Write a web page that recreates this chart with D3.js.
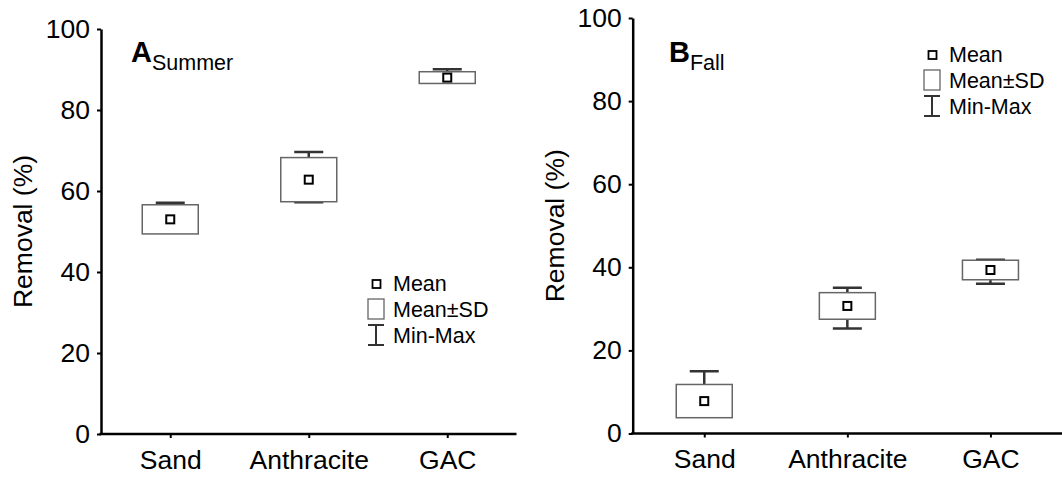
<!DOCTYPE html>
<html>
<head>
<meta charset="utf-8">
<script src="https://cdn.jsdelivr.net/npm/d3@7"></script>
<style>
  body { margin: 0; background: #fff; }
  svg { display: block; font-family: 'Liberation Sans', Arial, sans-serif; }
  .tick text { font-size: 26.5px; fill: #000; }
  .axis-label { font-size: 26.5px; fill: #000; }
  .legend text { font-size: 21.5px; fill: #000; }
</style>
</head>
<body>
<svg width="1062" height="479"></svg>
<script>
const categories = ['Sand', 'Anthracite', 'GAC'];
const yTicks = [0, 20, 40, 60, 80, 100];

// summer (panel A)
const summerMean = [53.0, 62.8, 88.0];
const summerSD = [3.6, 5.45, 1.45];
const summerMin = [50.0, 57.2, 87.0];
const summerMax = [57.1, 69.6, 90.05];

// fall (panel B)
const fallMean = [7.8, 30.7, 39.35];
const fallSD = [4.0, 3.2, 2.35];
const fallMin = [4.5, 25.3, 36.05];
const fallMax = [15.0, 35.1, 41.8];

const legendItems = ['Mean', 'Mean\u00b1SD', 'Min-Max'];

const svg = d3.select('svg');

const render = (p) => {
    const xScale = d3.scalePoint()
        .domain(categories)
        .range([p.left, p.right])
        .padding(0.5);

    const yScale = d3.scaleLinear()
        .domain([0, 100])
        .range([p.bottom, p.top]);

    const g = svg.append('g');

    const yAxis = d3.axisLeft(yScale)
        .tickValues(yTicks)
        .tickSize(4)
        .tickSizeOuter(0)
        .tickPadding(7);

    const yAxisG = g.append('g')
        .attr('transform', `translate(${p.left},0)`)
        .call(yAxis);
    yAxisG.select('.domain').attr('stroke-width', 2.5);
    yAxisG.selectAll('.tick line').attr('stroke-width', 2);

    const xAxis = d3.axisBottom(xScale)
        .tickSize(4)
        .tickSizeOuter(0)
        .tickPadding(12);

    const xAxisG = g.append('g')
        .attr('transform', `translate(0,${p.bottom})`)
        .call(xAxis);
    xAxisG.select('.domain')
        .attr('stroke-width', 2.5)
        .attr('d', `M${p.left - 1.5},0H${p.right}`);
    xAxisG.selectAll('.tick line').attr('stroke-width', 2);

    g.append('text')
        .attr('class', 'axis-label')
        .attr('transform', `translate(${p.left - 69},${(p.top + p.bottom) / 2}) rotate(-90)`)
        .attr('text-anchor', 'middle')
        .text('Removal (%)');

    // panel letter with season subscript
    const lbl = g.append('text')
        .attr('x', p.letterX)
        .attr('y', 62);
    lbl.append('tspan')
        .attr('font-weight', 'bold')
        .attr('font-size', 29)
        .text(p.letter);
    lbl.append('tspan')
        .attr('font-size', 21.5)
        .attr('dy', 8)
        .text(p.season);

    const boxW = 56;
    const capW = 29;
    const data = categories.map((c, i) => ({
        c, mean: p.mean[i], sd: p.sd[i], min: p.min[i], max: p.max[i]
    }));

    const boxes = g.selectAll('.box').data(data).enter().append('g');

    // whiskers, drawn only where they reach outside the box
    boxes.filter(d => d.max > d.mean + d.sd).append('path')
        .attr('fill', 'none')
        .attr('stroke', '#333')
        .attr('stroke-width', 2.5)
        .attr('d', d => {
            const x = xScale(d.c);
            return `M${x},${yScale(d.mean + d.sd)}V${yScale(d.max)}` +
                `M${x - capW / 2},${yScale(d.max)}H${x + capW / 2}`;
        });
    boxes.filter(d => d.min < d.mean - d.sd).append('path')
        .attr('fill', 'none')
        .attr('stroke', '#333')
        .attr('stroke-width', 2.5)
        .attr('d', d => {
            const x = xScale(d.c);
            return `M${x},${yScale(d.mean - d.sd)}V${yScale(d.min)}` +
                `M${x - capW / 2},${yScale(d.min)}H${x + capW / 2}`;
        });

    boxes.append('rect')
        .attr('x', d => xScale(d.c) - boxW / 2)
        .attr('y', d => yScale(d.mean + d.sd))
        .attr('width', boxW)
        .attr('height', d => yScale(d.mean - d.sd) - yScale(d.mean + d.sd))
        .attr('fill', 'none')
        .attr('stroke', '#666')
        .attr('stroke-width', 1.5);

    boxes.append('rect')
        .attr('x', d => xScale(d.c) - 4)
        .attr('y', d => yScale(d.mean) - 4)
        .attr('width', 8)
        .attr('height', 8)
        .attr('fill', '#fff')
        .attr('stroke', '#000')
        .attr('stroke-width', 2);

    // legend
    const lg = g.append('g')
        .attr('class', 'legend')
        .attr('transform', `translate(${p.legendX},${p.legendY})`);
    const iconX = -25;
    lg.append('rect')
        .attr('x', iconX + 4.5).attr('y', -4)
        .attr('width', 8).attr('height', 8)
        .attr('fill', '#fff').attr('stroke', '#000').attr('stroke-width', 1.8);
    lg.append('rect')
        .attr('x', iconX).attr('y', 15)
        .attr('width', 16).attr('height', 20)
        .attr('fill', 'none').attr('stroke', '#666').attr('stroke-width', 1.3);
    lg.append('path')
        .attr('fill', 'none').attr('stroke', '#333').attr('stroke-width', 2)
        .attr('d', `M${iconX},41H${iconX + 16}M${iconX + 8},41V61M${iconX},61H${iconX + 16}`);
    lg.selectAll('text').data(legendItems).enter().append('text')
        .attr('x', 0)
        .attr('y', (d, i) => 7 + i * 26)
        .text(d => d);
};

render({
    left: 101, right: 516.5, top: 29, bottom: 434,
    letter: 'A', season: 'Summer', letterX: 131,
    mean: summerMean, sd: summerSD, min: summerMin, max: summerMax,
    legendX: 393, legendY: 284
});

render({
    left: 632.7, right: 1062, top: 18, bottom: 433.5,
    letter: 'B', season: 'Fall', letterX: 669,
    mean: fallMean, sd: fallSD, min: fallMin, max: fallMax,
    legendX: 949, legendY: 55
});
</script>
</body>
</html>
